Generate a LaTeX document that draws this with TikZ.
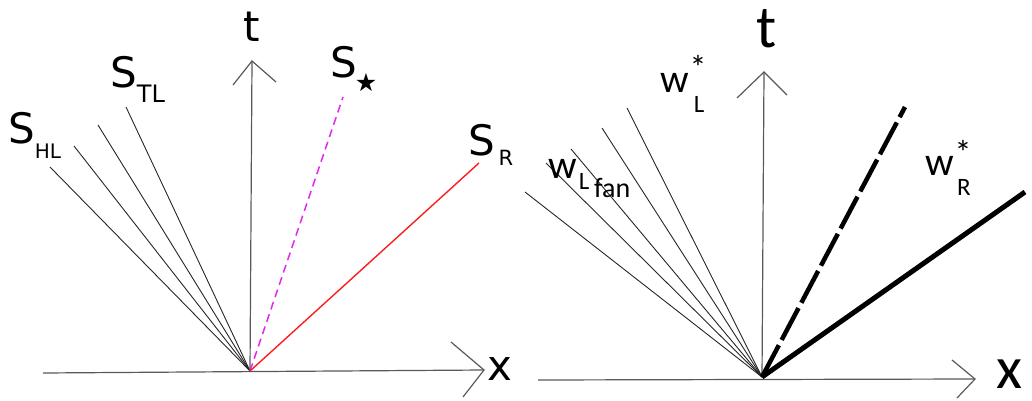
\documentclass[tikz,border=0pt]{standalone}
\usepackage{fontspec}
\newfontfamily\dvfont{DejaVu Sans}
\newfontfamily\cbfont{Carlito}
\definecolor{mag}{RGB}{225,40,240}
\definecolor{redl}{RGB}{250,30,30}
\begin{document}
\begin{tikzpicture}[x=1pt,y=-1pt,
  axisline/.style={draw=black!65,line width=1.2pt},
  fanline/.style={draw=black!85,line width=0.9pt},
  lbl/.style={inner sep=0pt,anchor=center},
  dvbig/.style={lbl,font=\dvfont\fontsize{42}{48}\selectfont},
  dvsub/.style={lbl,font=\dvfont\fontsize{#1}{#1}\selectfont},
  cbbig/.style={lbl,font=\cbfont\fontsize{60}{64}\selectfont},
  cbw/.style={lbl,font=\cbfont\fontsize{40}{44}\selectfont},
  cbsub/.style={lbl,font=\cbfont\fontsize{#1}{#1}\selectfont}]
\useasboundingbox (0,0) rectangle (1032,401);
% ---------------- left panel ----------------
\coordinate (O1) at (250,371);
\coordinate (xs1) at (43,373);
\coordinate (xt1) at (484,370);
\coordinate (xa1) at (451,342);
\coordinate (xb1) at (463,397);
\coordinate (tt1) at (252,61);
\coordinate (ta1) at (233,85);
\coordinate (tb1) at (276,82);
\draw[axisline] (xs1) -- (xt1);
\draw[axisline] (xa1) -- (xt1) -- (xb1);
\draw[axisline] (O1) -- (tt1);
\draw[axisline] (ta1) -- (tt1) -- (tb1);
\coordinate (f1) at (50,167);
\coordinate (f2) at (74,146);
\coordinate (f3) at (98,125);
\coordinate (f4) at (126,107);
\foreach \f in {f1,f2,f3,f4} \draw[fanline] (O1) -- (\f);
\coordinate (sst) at (343,97);
\coordinate (sr) at (479,163);
\draw[mag,line width=1.5pt,dash pattern=on 8pt off 5pt] (O1) -- (sst);
\draw[redl,line width=1.4pt] (O1) -- (sr);
\node[dvbig] (tl1) at (252,27) {t};
\node[dvbig] (xl1) at (500,369) {x};
\node[dvbig] (shl) at (22,128) {S};
\node[dvsub=20] (shls) at (48,151) {HL};
\node[dvbig] (stl) at (124,72) {S};
\node[dvsub=24] (stls) at (151,94) {TL};
\node[dvbig] (sstl) at (344,62) {S};
\node[dvsub=25] (sstar) at (366,83) {★};
\node[dvbig] (srl) at (482,140) {S};
\node[dvsub=21] (srs) at (506,158) {R};
% ---------------- right panel ----------------
\coordinate (O2) at (762,377);
\coordinate (xs2) at (538,380);
\coordinate (xt2) at (975,379);
\coordinate (xa2) at (952,360);
\coordinate (xb2) at (957,398);
\coordinate (tt2) at (764,72);
\coordinate (ta2) at (737,98);
\coordinate (tb2) at (787,95);
\draw[axisline] (xs2) -- (xt2);
\draw[axisline] (xa2) -- (xt2) -- (xb2);
\draw[axisline] (O2) -- (tt2);
\draw[axisline] (ta2) -- (tt2) -- (tb2);
\coordinate (g1) at (525,192);
\coordinate (g2) at (546,163);
\coordinate (g3) at (571,149);
\coordinate (g4) at (602,128);
\coordinate (g5) at (627,108);
\foreach \g in {g1,g2,g3,g4,g5} \draw[fanline] (O2) -- (\g);
\coordinate (wd) at (905,107);
\coordinate (wr) at (1025,192);
\draw[black,line width=4.5pt,dash pattern=on 36pt off 6pt] (O2) -- (wd);
\draw[black,line width=5pt] (O2) -- (wr);
\node[cbbig] (tl2) at (767,29) {t};
\node[cbbig] (xl2) at (1009,374) {x};
\node[cbw] (wl) at (675,83) {w};
\node[cbsub=34] (wls) at (698,67) {*};
\node[cbsub=25] (wll) at (699,104) {L};
\node[cbw] (wf) at (563,169) {w};
\node[cbsub=25] (wfl) at (584,181) {L};
\node[cbsub=28,anchor=base west] (wff) at (594,197) {fan};
\node[cbw] (wr2) at (940,166) {w};
\node[cbsub=34] (wrs) at (963,152) {*};
\node[cbsub=25] (wrr) at (964,187) {R};
\end{tikzpicture}
\end{document}
